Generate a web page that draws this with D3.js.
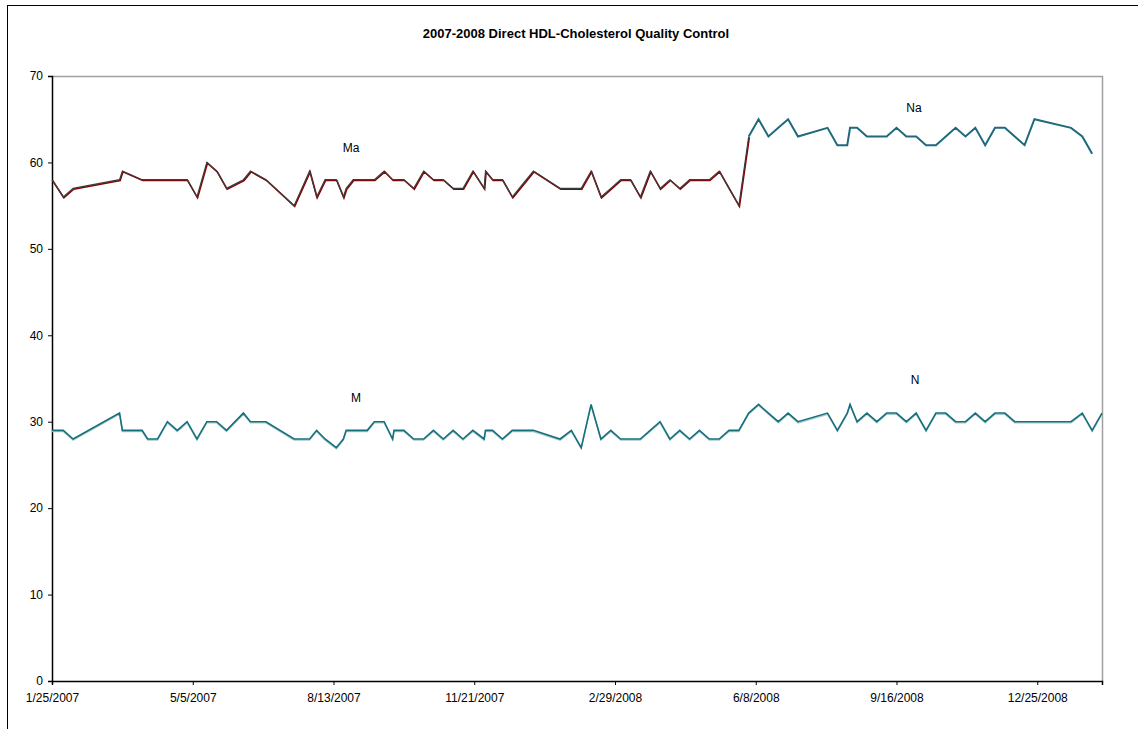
<!DOCTYPE html>
<html>
<head>
<meta charset="utf-8">
<script src="https://cdn.jsdelivr.net/npm/d3@7"></script>
<style>
  body { margin: 0; background: #fff; }
  svg text { font-family: "Liberation Sans", Arial, sans-serif; fill: #000; }
</style>
</head>
<body>
<script>
// sample dates, shared by both control levels
var dates = [
  "1/25/2007","2/2/2007","2/9/2007","3/14/2007","3/16/2007","3/30/2007","4/3/2007","4/10/2007",
  "4/17/2007","4/24/2007","5/1/2007","5/8/2007","5/15/2007","5/22/2007","5/29/2007","6/10/2007",
  "6/15/2007","6/26/2007","7/16/2007","7/27/2007","8/1/2007","8/7/2007","8/15/2007","8/20/2007",
  "8/22/2007","8/27/2007","9/6/2007","9/11/2007","9/18/2007","9/24/2007","9/25/2007","10/2/2007",
  "10/9/2007","10/16/2007","10/23/2007","10/30/2007","11/6/2007","11/13/2007","11/20/2007","11/28/2007",
  "11/29/2007","12/4/2007","12/11/2007","12/18/2007","1/2/2008","1/21/2008","1/29/2008","2/5/2008",
  "2/12/2008","2/19/2008","2/26/2008","3/4/2008","3/11/2008","3/18/2008","3/25/2008","4/1/2008",
  "4/8/2008","4/15/2008","4/22/2008","4/29/2008","5/6/2008","5/13/2008","5/20/2008","5/27/2008",
  "6/3/2008","6/10/2008","6/17/2008","6/24/2008","7/1/2008","7/8/2008","7/29/2008","8/5/2008",
  "8/12/2008","8/14/2008","8/19/2008","8/26/2008","9/2/2008","9/9/2008","9/16/2008","9/23/2008",
  "9/30/2008","10/7/2008","10/14/2008","10/21/2008","10/28/2008","11/4/2008","11/11/2008","11/18/2008",
  "11/25/2008","12/2/2008","12/9/2008","12/16/2008","12/23/2008","1/18/2009","1/26/2009","2/2/2009",
  "2/9/2009"
];

// high control
var highValues = [
  58,56,57,58,59,58,58,58,
  58,58,58,56,60,59,57,58,
  59,58,55,59,56,58,58,56,
  57,58,58,58,59,58,58,58,
  57,59,58,58,57,57,59,57,
  59,58,58,56,59,57,57,57,
  59,56,57,58,58,56,59,57,
  58,57,58,58,58,59,57,55,
  63,65,63,64,65,63,64,62,
  62,64,64,63,63,63,64,63,
  63,62,62,63,64,63,64,62,
  64,64,63,62,65,64,63,61,
  null
];

// low control
var lowValues = [
  29,29,28,31,29,29,28,28,
  30,29,30,28,30,30,29,31,
  30,30,28,28,29,28,27,28,
  29,29,29,30,30,28,29,29,
  28,28,29,28,29,28,29,28,
  29,29,28,29,29,28,29,27,
  32,28,29,28,28,28,29,30,
  28,29,28,29,28,28,29,29,
  31,32,31,30,31,30,31,29,
  31,32,30,31,30,31,31,30,
  31,29,31,31,30,30,31,30,
  31,31,30,30,30,30,31,29,
  31
];

var splitDate = "6/3/2008"; // lot change: Ma/M before, Na/N after
var yTicks = [0, 10, 20, 30, 40, 50, 60, 70];
var title = "2007-2008 Direct HDL-Cholesterol Quality Control";

var parse = d3.timeParse("%m/%d/%Y");
var fmt = d3.timeFormat("%-m/%-d/%Y");

var rows = dates.map(function(d, i) {
  return { date: parse(d), high: highValues[i], low: lowValues[i] };
});
var splitAt = dates.indexOf(splitDate);

var width = 1138, height = 729;
var margin = { top: 76, right: 36, bottom: 48, left: 52 };

var svg = d3.select("body").append("svg")
  .attr("width", width)
  .attr("height", height);

// outer chart frame (right and bottom edges fall outside the picture)
svg.append("rect")
  .attr("x", 7.5).attr("y", 5.5)
  .attr("width", 1140).attr("height", 740)
  .attr("fill", "none").attr("stroke", "#000").attr("stroke-width", 1);

var x = d3.scaleTime()
  .domain(d3.extent(rows, function(d) { return d.date; }))
  .range([margin.left, width - margin.right]);

var y = d3.scaleLinear()
  .domain([0, 70])
  .range([height - margin.bottom, margin.top]);

// plot area border: grey top and right
svg.append("path")
  .attr("d", "M" + x.range()[0] + "," + (y(70) + 0.5) + "H" + (x.range()[1] + 0.5) + "V" + y(0))
  .attr("fill", "none").attr("stroke", "#a0a0a0").attr("stroke-width", 1.5);

svg.append("text")
  .attr("x", 576).attr("y", 38)
  .attr("text-anchor", "middle")
  .style("font-size", "13px").style("font-weight", "bold")
  .text(title);

// axes
var start = rows[0].date;
var xTicks = d3.range(0, 8).map(function(i) { return d3.timeDay.offset(start, i * 100); });

var xAxis = svg.append("g")
  .attr("transform", "translate(0," + y(0) + ")")
  .call(d3.axisBottom(x).tickValues(xTicks).tickFormat(fmt).tickSize(4).tickPadding(8));

var yAxis = svg.append("g")
  .attr("transform", "translate(" + x.range()[0] + ",0)")
  .call(d3.axisLeft(y).tickValues(yTicks).tickSize(4).tickPadding(5));

[xAxis, yAxis].forEach(function(a) {
  a.select(".domain").attr("stroke", "#000").attr("stroke-width", 1.5);
  a.selectAll(".tick line").attr("stroke", "#000");
  a.selectAll("text").style("font-size", "12px")
    .style("font-family", "'Liberation Sans', Arial, sans-serif").attr("fill", "#000");
});

function lineFor(key, dx, dy) {
  return d3.line()
    .defined(function(d) { return d[key] != null; })
    .x(function(d) { return x(d.date) + dx; })
    .y(function(d) { return y(d[key]) + dy; });
}

var before = rows.slice(0, splitAt + 1);
var after = rows.slice(splitAt);

// low control: light shadow then teal line
svg.append("path").datum(rows)
  .attr("d", lineFor("low", 0, 1.2))
  .attr("fill", "none").attr("stroke", "#a8c6cc").attr("stroke-width", 1.3);
svg.append("path").datum(rows)
  .attr("d", lineFor("low", 0, 0))
  .attr("fill", "none").attr("stroke", "#14707c").attr("stroke-width", 1.6);

// high control, first lot: dark red with a dark overlay
svg.append("path").datum(before)
  .attr("d", lineFor("high", 0.6, 0.8))
  .attr("fill", "none").attr("stroke", "#8b0000").attr("stroke-width", 1.6);
svg.append("path").datum(before)
  .attr("d", lineFor("high", 0, 0))
  .attr("fill", "none").attr("stroke", "#3c3c3c").attr("stroke-width", 1.2);

// high control, second lot
svg.append("path").datum(after)
  .attr("d", lineFor("high", 0, 0))
  .attr("fill", "none").attr("stroke", "#1e6a7c").attr("stroke-width", 2);

// series labels
var labels = [
  { text: "Ma", x: 351, y: 152 },
  { text: "Na", x: 914, y: 112 },
  { text: "M", x: 356, y: 402 },
  { text: "N", x: 915, y: 384 }
];
svg.selectAll(".lab").data(labels).enter().append("text")
  .attr("class", "lab")
  .attr("x", function(d) { return d.x; })
  .attr("y", function(d) { return d.y; })
  .attr("text-anchor", "middle")
  .style("font-size", "12px")
  .text(function(d) { return d.text; });
</script>
</body>
</html>
